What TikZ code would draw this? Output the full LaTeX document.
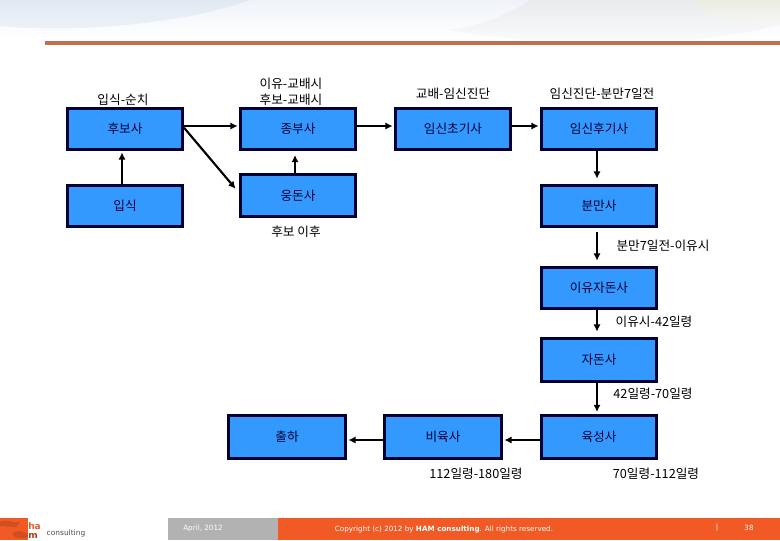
\documentclass[tikz,border=0pt]{standalone}
\usepackage{fontspec}
\setmainfont{Noto Sans CJK KR}
\newfontfamily\footfont{DejaVu Sans}
\usetikzlibrary{arrows.meta,positioning}
\definecolor{ink}{HTML}{000033}
\definecolor{bluefill}{HTML}{3399FF}
\definecolor{footorange}{HTML}{F15A24}
\definecolor{footgray}{HTML}{B2B2B2}
\definecolor{ruleorange}{HTML}{C0704F}
\definecolor{bannerblue}{HTML}{E2E9F3}
\definecolor{bannerpale}{HTML}{EFF3F9}
\definecolor{bannergray}{HTML}{E8EAEC}
\definecolor{bannergreen}{HTML}{EBEDE0}

\begin{document}
\begin{tikzpicture}[
  x=.75pt,y=-.75pt,
  font=\fontsize{9.5pt}{12pt}\selectfont,
  box/.style={draw=ink,line width=2.25pt,fill=bluefill,text=ink,
    minimum width=86.25pt,minimum height=30.75pt,inner sep=0pt},
  tallbox/.style={box,minimum height=32.25pt},
  lbl/.style={text=black,align=center,inner sep=0pt},
  flow/.style={-{Latex[length=1.9mm,width=1.9mm]},line width=1.15pt,draw=black,shorten >=1pt},
  foot/.style={text=white,inner sep=0pt,font=\footfont\fontsize{5.4pt}{6pt}\selectfont},
  logotext/.style={foot,anchor=south west,font=\footfont\bfseries\fontsize{6.8pt}{6pt}\selectfont},
  node distance=24.75pt and 27.75pt]
\useasboundingbox (0,0) rectangle (780,540);
% top banner
\shade[top color=bannerpale,bottom color=white] (0,0) rectangle (780,38);
\shade[top color=bannerblue,bottom color=bannerpale] (0,0) -- (250,0) .. controls (190,22) and (80,34) .. (0,26) -- cycle;
\shade[top color=bannergray,bottom color=white] (530,0) .. controls (510,14) and (480,26) .. (450,30) .. controls (540,48) and (700,50) .. (780,24) -- (780,0) -- cycle;
\shade[top color=bannergreen,bottom color=bannergray!40!white] (700,0) -- (780,0) -- (780,24) .. controls (760,26) and (700,24) .. (700,0) -- cycle;
\fill[ruleorange] (45,41) rectangle (780,45);
% footer
\fill[footgray] (168,518) rectangle (278,540);
\fill[footorange] (278,518) rectangle (780,540);
\fill[footorange] (0,518) rectangle (28,540);
\fill[footorange!75!black,opacity=.5] (0,522) .. controls (8,518) and (14,524) .. (20,522) -- (16,527) .. controls (8,527) and (4,526) .. (0,526) -- cycle;
\fill[footorange!75!black,opacity=.5] (12,534) .. controls (16,529) and (24,531) .. (28,534) -- (28,537) .. controls (22,540) and (14,538) .. (12,534) -- cycle;

% boxes
\node[box] at (125,129) (hubo) {후보사};
\node[box,right=41.25pt of hubo] (jongbu) {종부사};
\node[box,right=27.75pt of jongbu] (chogi) {임신초기사};
\node[box,right=21pt of chogi] (hugi) {임신후기사};
\node[box,below=of hubo] (ipsik) {입식};
\node[box,minimum height=31.5pt,below=16.5pt of jongbu] (ungdon) {웅돈사};
\node[box,below=of hugi] (bunman) {분만사};
\node[box,below=28.5pt of bunman] (ijadon) {이유자돈사};
\node[tallbox,below=20.25pt of ijadon] (jadon) {자돈사};
\node[tallbox,below=23.25pt of jadon] (yukseong) {육성사};
\node[tallbox,minimum width=87.75pt,left=of yukseong] (biyuk) {비육사};
\node[tallbox,minimum width=87.75pt,left=27pt of biyuk] (chulha) {출하};

% period labels
\node[lbl] at (123,100) (lipsik) {입식-순치};
\node[lbl] at (291,92) (ljongbu) {이유-교배시\\후보-교배시};
\node[lbl] at (453,94) (lchogi) {교배-임신진단};
\node[lbl] at (602,94) (lhugi) {임신진단-분만7일전};
\node[lbl] at (296,232) (lungdon) {후보 이후};
\node[lbl] at (663,246) (lbunman) {분만7일전-이유시};
\node[lbl] at (654,322) (lijadon) {이유시-42일령};
\node[lbl] at (653,394) (ljadon) {42일령-70일령};
\node[lbl] at (476,474) (lbiyuk) {112일령-180일령};
\node[lbl] at (656,474) (lyukseong) {70일령-112일령};

% connectors
\draw[flow] ([yshift=2.25pt]hubo.east) -- ([yshift=2.25pt]jongbu.west);
\draw[flow,line width=1.6pt,shorten >=4pt] ([yshift=1pt]hubo.east) -- ([yshift=2pt]ungdon.west);
\draw[flow,shorten >=1pt] ([xshift=-2.25pt]ipsik.north) -- ([xshift=-2.25pt]hubo.south);
\draw[flow,shorten >=3pt] ([xshift=-2.25pt]ungdon.north) -- ([xshift=-2.25pt]jongbu.south);
\draw[flow] ([yshift=2.25pt]jongbu.east) -- ([yshift=2.25pt]chogi.west);
\draw[flow] ([yshift=2.25pt]chogi.east) -- ([yshift=2.25pt]hugi.west);
\draw[flow,shorten >=4pt] ([xshift=-1.5pt]hugi.south) -- ([xshift=-1.5pt]bunman.north);
\draw[flow,shorten <=3pt,shorten >=4pt] ([xshift=-1.5pt]bunman.south) -- ([xshift=-1.5pt]ijadon.north);
\draw[flow,shorten >=4pt] ([xshift=-1.5pt]ijadon.south) -- ([xshift=-1.5pt]jadon.north);
\draw[flow,shorten >=1.5pt] ([xshift=-1.5pt]jadon.south) -- ([xshift=-1.5pt]yukseong.north);
\draw[flow] ([yshift=-2.25pt]yukseong.west) -- ([yshift=-2.25pt]biyuk.east);
\draw[flow] ([yshift=-2.25pt]biyuk.west) -- ([yshift=-2.25pt]chulha.east);

% footer texts
\node[logotext,text=footorange] at (28,530) (logoha) {ha};
\node[logotext,text=footorange!70!black] at (28,539) (logom) {m};
\node[foot,text=black!70,font=\footfont\fontsize{5.6pt}{6pt}\selectfont] at (66,533) (consult) {consulting};
\node[foot] at (203,528) (fdate) {April, 2012};
\node[foot] at (444,530) (fcopy) {Copyright (c) 2012 by \textbf{HAM consulting}. All rights reserved.};
\node[foot] at (717,528) (fbar) {|};
\node[foot] at (749,528) (fpage) {38};
\end{tikzpicture}
\end{document}
